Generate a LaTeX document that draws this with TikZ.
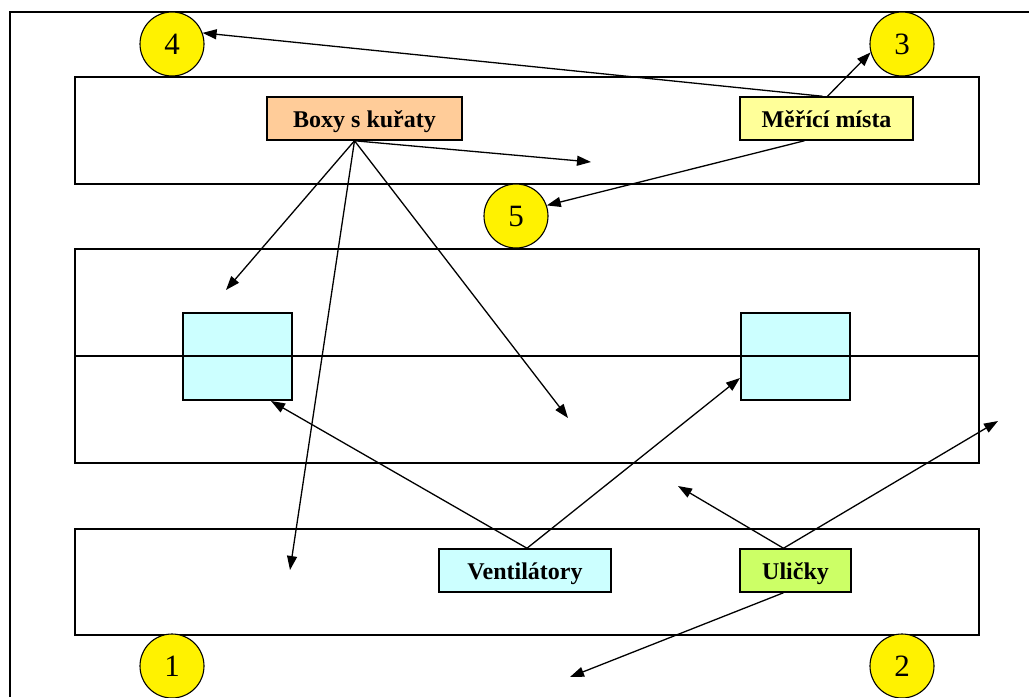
\documentclass[tikz,border=0pt]{standalone}
\usepackage{fontspec}
\setmainfont{Liberation Serif}
\usetikzlibrary{arrows.meta,calc}
\definecolor{peach}{HTML}{FFCC99}
\definecolor{lyellow}{HTML}{FFFF99}
\definecolor{lcyan}{HTML}{CCFFFF}
\definecolor{lgreen}{HTML}{CCFF66}
\begin{document}
\begin{tikzpicture}[x=1pt,y=-1pt,
  area/.style={draw, line width=1.5pt, rectangle, inner sep=0pt, anchor=north west},
  tag/.style={draw, line width=1.5pt, rectangle, minimum height=43pt, inner sep=0pt, text height=20pt, text depth=2pt, font=\fontsize{24}{26}\selectfont\bfseries},
  num/.style={circle, draw, line width=1.1pt, fill=yellow, minimum size=64pt, inner sep=0pt, font=\fontsize{31}{32}\selectfont},
  fanbox/.style={draw, line width=1.5pt, fill=lcyan, rectangle, inner sep=0pt, minimum width=109pt, minimum height=87pt, anchor=north west},
  arr/.style={line width=1.3pt, -{Triangle[length=14pt,width=10pt]}}]
\useasboundingbox (0,0) rectangle (1029,697);
% outer frame (cropped)
\draw[line width=1.5pt] (10,697) -- (10,12) -- (1029,12);
% areas
\node[area, minimum width=904pt, minimum height=107pt] (topArea) at (74,76) {};
\node[area, minimum width=904pt, minimum height=214pt] (midArea) at (74,248) {};
\node[area, minimum width=904pt, minimum height=106pt] (botArea) at (74,528) {};
% cyan boxes
\node[fanbox] (fanL) at (182,312) {};
\node[fanbox] (fanR) at (740,312) {};
% middle divider
\draw[line width=1.5pt] (midArea.west) -- (midArea.east);
% labels
\node[tag, fill=peach, minimum width=195pt] (boxy) at (364.5,118.5) {Boxy s kuřaty};
\node[tag, fill=lyellow, minimum width=173pt] (mm) at (826.5,118.5) {Měřící místa};
\node[tag, fill=lcyan, minimum width=172pt] (vent) at (525,570.5) {Ventilátory};
\node[tag, fill=lgreen, minimum width=111pt] (ul) at (795.5,570.5) {Uličky};
% numbered circles
\node[num] (n4) at (172,44) {4};
\node[num] (n3) at (902,44) {3};
\node[num] (n5) at (516,216) {5};
\node[num] (n1) at (172,666) {1};
\node[num] (n2) at (902,666) {2};
% free arrow ends
\coordinate (b1) at (591,162);
\coordinate (b2) at (226,290);
\coordinate (b3) at (290,570);
\coordinate (b4) at (568,418);
\coordinate (v1) at (271,401);
\coordinate (v2) at (740,378);
\coordinate (u1) at (678,486);
\coordinate (u2) at (998,421);
\coordinate (u3) at (570,677);
% arrows
\draw[arr] ($(mm.north)+(-4,0)$) -- (n4.20);
\draw[arr] ($(mm.north)+(1,0)$) -- (n3.195);
\draw[arr] ($(mm.south)+(-22,0)$) -- (n5.19);
\draw[arr] ($(boxy.south)+(-10,0)$) -- (b1);
\draw[arr] ($(boxy.south)+(-10,0)$) -- (b2);
\draw[arr] ($(boxy.south)+(-10,0)$) -- (b3);
\draw[arr] ($(boxy.south)+(-10,0)$) -- (b4);
\draw[arr] ($(vent.north)+(2,0)$) -- (v1);
\draw[arr] ($(vent.north)+(2,0)$) -- (v2);
\draw[arr] ($(ul.north)+(-12,0)$) -- (u1);
\draw[arr] ($(ul.north)+(-12,0)$) -- (u2);
\draw[arr] ($(ul.south)+(-12,0)$) -- (u3);
\end{tikzpicture}
\end{document}
